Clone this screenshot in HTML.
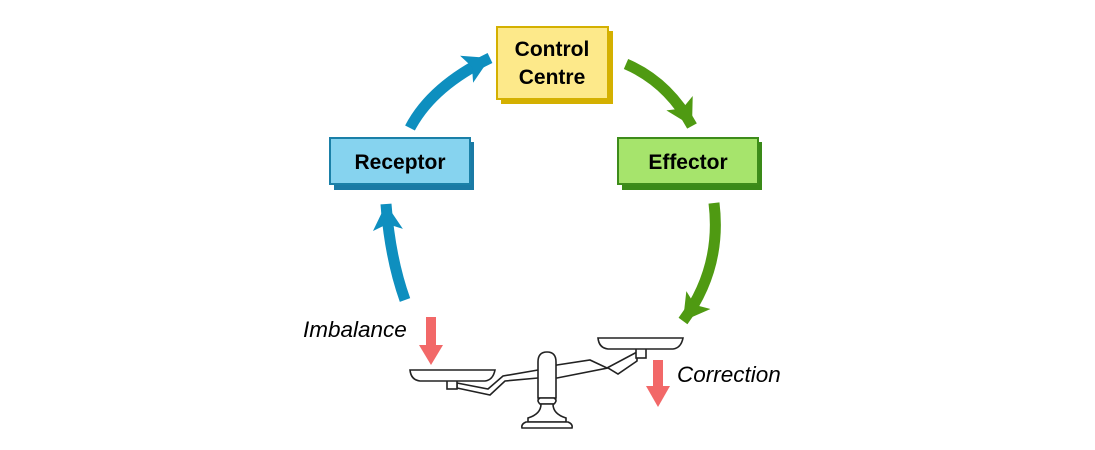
<!DOCTYPE html>
<html><head><style>html,body{margin:0;padding:0;background:#fff;width:1095px;height:450px;overflow:hidden}</style></head>
<body>
<svg width="1095" height="450" viewBox="0 0 1095 450" xmlns="http://www.w3.org/2000/svg" font-family="'Liberation Sans', sans-serif">
<defs>
<marker id="hb" markerUnits="userSpaceOnUse" markerWidth="34" markerHeight="34" refX="26" refY="15" orient="auto"><polygon points="0,0 26,15 0,30 6,15" fill="#0e8fbf"/></marker>
<marker id="hg" markerUnits="userSpaceOnUse" markerWidth="34" markerHeight="34" refX="26" refY="15" orient="auto"><polygon points="0,0 26,15 0,30 6,15" fill="#4f9a12"/></marker>
</defs>
<path d="M410,128 Q432,86 490,58" fill="none" stroke="#0e8fbf" stroke-width="11" marker-end="url(#hb)"/>
<path d="M405,300 Q390,258 386,204" fill="none" stroke="#0e8fbf" stroke-width="11" marker-end="url(#hb)"/>
<path d="M626,64 Q668,82 692,126" fill="none" stroke="#4f9a12" stroke-width="11" marker-end="url(#hg)"/>
<path d="M714,203 Q722,268 683,321" fill="none" stroke="#4f9a12" stroke-width="11" marker-end="url(#hg)"/>
<rect x="501" y="31" width="112" height="73" fill="#d4b000"/>
<rect x="497" y="27" width="111" height="72" fill="#fde98a" stroke="#d4b000" stroke-width="2"/>
<text x="552" y="56" font-size="21" font-weight="bold" text-anchor="middle">Control</text>
<text x="552" y="84" font-size="21" font-weight="bold" text-anchor="middle">Centre</text>
<rect x="334" y="142" width="140" height="48" fill="#1a7aa5"/>
<rect x="330" y="138" width="140" height="46" fill="#86d3ef" stroke="#1a80a8" stroke-width="2"/>
<text x="400" y="169" font-size="21" font-weight="bold" text-anchor="middle">Receptor</text>
<rect x="622" y="142" width="140" height="48" fill="#3a8a18"/>
<rect x="618" y="138" width="140" height="46" fill="#a6e46c" stroke="#3d8c1a" stroke-width="2"/>
<text x="688" y="169" font-size="21" font-weight="bold" text-anchor="middle">Effector</text>
<rect x="426" y="317" width="10" height="30" fill="#f26868"/><polygon points="419,345 443,345 431,365" fill="#f26868"/>
<rect x="653" y="360" width="10" height="28" fill="#f26868"/><polygon points="646,386 670,386 658,407" fill="#f26868"/>
<text x="303" y="337" font-size="22.5" font-style="italic">Imbalance</text>
<text x="677" y="382" font-size="22.5" font-style="italic">Correction</text>
<g fill="#fff" stroke="#222" stroke-width="1.6">
<polygon points="457,383 488,389 503,376 538,370 557,365 590,360 607,368 637,352 637,361 618,374 608,368 557,378 538,378 505,381 490,395 457,388"/>
<rect x="447" y="379" width="10" height="10"/>
<rect x="636" y="348" width="10" height="10"/>
<path d="M410,370 L495,370 Q493,380 485,381 L420,381 Q411,380 410,370 Z"/>
<path d="M598,338 L683,338 Q681,348 673,349 L608,349 Q599,348 598,338 Z"/>
<path d="M538,398 L538,362 Q538,352 547,352 Q556,352 556,362 L556,398 Z"/>
<path d="M540,398 L554,398 Q558,400 554,404 L540,404 Q536,400 540,398 Z"/>
<path d="M541,404 L553,404 Q553,414 566,418 L566,422 L528,422 L528,418 Q541,414 541,404 Z"/>
<path d="M526,422 L568,422 Q573,424 572,428 L522,428 Q521,424 526,422 Z"/>
</g>
</svg>
</body></html>
